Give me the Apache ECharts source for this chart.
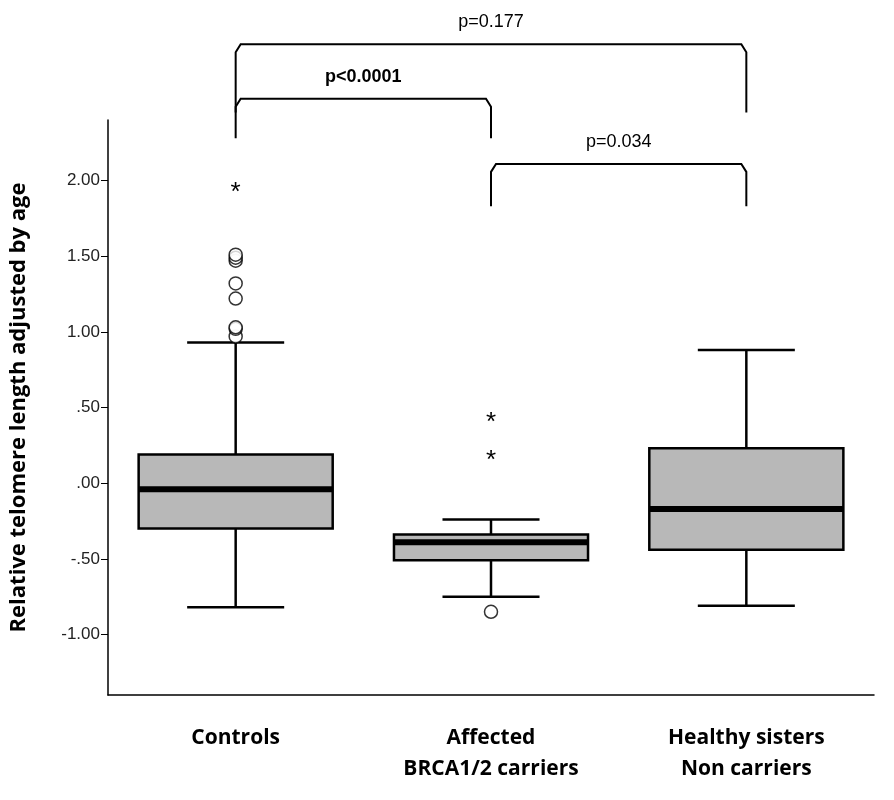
<!DOCTYPE html>
<html>
<head>
<meta charset="utf-8">
<script src="https://cdn.jsdelivr.net/npm/echarts@6/dist/echarts.min.js"></script>
<style>html,body{margin:0;background:#fff}#main{width:894px;height:800px}</style>
</head>
<body>
<div id="main"></div>
<script>
var categories = ['Controls', 'Affected\nBRCA1/2 carriers', 'Healthy sisters\nNon carriers'];
// [whiskerLow, Q1, median, Q3, whiskerHigh]
var boxStats = [
    [-0.82, -0.30, -0.04, 0.19, 0.93],
    [-0.75, -0.51, -0.39, -0.34, -0.24],
    [-0.81, -0.44, -0.17, 0.23, 0.88]
];
var circleOutliers = [[0, 0.97], [0, 1.02], [0, 1.03], [0, 1.22], [0, 1.32], [0, 1.47], [0, 1.49], [0, 1.51], [1, -0.85]];
var starOutliers = [[0, 1.96], [1, 0.44], [1, 0.19]];
// [fromCat, toCat, topValue, legValue, label, bold]
var brackets = [
    [0, 2, 2.90, 2.45, 'p=0.177', false],
    [0, 1, 2.54, 2.28, 'p<0.0001', true],
    [1, 2, 2.11, 1.83, 'p=0.034', false]
];
var yTicks = [-1, -0.5, 0, 0.5, 1, 1.5, 2];

function fmt(v) {
    var s = v.toFixed(2);
    return s.replace(/^(-?)0\./, '$1.');
}

var myChart = echarts.init(document.getElementById('main'));
var option = {
    animation: false,
    grid: { left: 108, right: 20, top: 120, bottom: 105 },
    xAxis: {
        type: 'category',
        data: categories,
        axisLine: { onZero: false, lineStyle: { color: '#000', width: 1.5 } },
        axisTick: { alignWithLabel: true, length: 7, lineStyle: { color: '#000' } },
        axisLabel: { color: '#000', fontSize: 21, fontWeight: 'bold', fontFamily: 'Open Sans', lineHeight: 31, margin: 28 }
    },
    yAxis: {
        type: 'value',
        min: -1.4, max: 2.4,
        name: 'Relative telomere length adjusted by age',
        nameLocation: 'middle',
        nameGap: 78,
        nameTextStyle: { color: '#000', fontSize: 22, fontWeight: 'bold', fontFamily: 'Open Sans' },
        splitLine: { show: false },
        axisLine: { show: true, lineStyle: { color: '#000', width: 1.5 } },
        axisTick: { show: true, length: 7, customValues: yTicks, lineStyle: { color: '#000' } },
        axisLabel: {
            color: '#222', fontSize: 17, fontFamily: 'Liberation Sans',
            customValues: yTicks,
            formatter: function (v) { return fmt(v); }
        }
    },
    series: [
        {
            type: 'custom',
            data: boxStats.map(function (s, i) { return [i].concat(s); }),
            renderItem: function (params, api) {
                var x = api.value(0);
                var band = api.size([1, 0])[0];
                var bw = band * 0.38, cw = band * 0.19;
                var pLow = api.coord([x, api.value(1)]), pQ1 = api.coord([x, api.value(2)]);
                var pMed = api.coord([x, api.value(3)]), pQ3 = api.coord([x, api.value(4)]);
                var pHigh = api.coord([x, api.value(5)]);
                var cx = pLow[0];
                var ls = { stroke: '#000', lineWidth: 2.5 };
                return {
                    type: 'group',
                    children: [
                        { type: 'line', shape: { x1: cx, y1: pLow[1], x2: cx, y2: pQ1[1] }, style: ls },
                        { type: 'line', shape: { x1: cx, y1: pQ3[1], x2: cx, y2: pHigh[1] }, style: ls },
                        { type: 'line', shape: { x1: cx - cw, y1: pLow[1], x2: cx + cw, y2: pLow[1] }, style: ls },
                        { type: 'line', shape: { x1: cx - cw, y1: pHigh[1], x2: cx + cw, y2: pHigh[1] }, style: ls },
                        { type: 'rect', shape: { x: cx - bw, y: pQ3[1], width: bw * 2, height: pQ1[1] - pQ3[1] },
                          style: { fill: '#b8b8b8', stroke: '#000', lineWidth: 2.5 } },
                        { type: 'line', shape: { x1: cx - bw, y1: pMed[1], x2: cx + bw, y2: pMed[1] },
                          style: { stroke: '#000', lineWidth: 6 } }
                    ]
                };
            }
        },
        {
            type: 'scatter',
            data: circleOutliers,
            symbol: 'circle',
            symbolSize: 13,
            itemStyle: { color: '#fff', borderColor: '#000', borderWidth: 1.5 }
        },
        {
            type: 'custom',
            data: starOutliers,
            renderItem: function (params, api) {
                var p = api.coord([api.value(0), api.value(1)]);
                return {
                    type: 'text',
                    style: { text: '*', x: p[0], y: p[1] + 6, align: 'center', verticalAlign: 'middle',
                             font: '26px Liberation Sans', fill: '#000' }
                };
            }
        },
        {
            type: 'custom',
            clip: false,
            data: brackets,
            renderItem: function (params, api) {
                var b = brackets[params.dataIndex];
                var a = api.coord([b[0], b[2]]), c = api.coord([b[1], b[2]]);
                var leg = api.coord([b[0], b[3]])[1];
                return {
                    type: 'group',
                    children: [
                        { type: 'polyline',
                          shape: { points: [[a[0], leg], [a[0], a[1] + 8], [a[0] + 5, a[1]], [c[0] - 5, c[1]], [c[0], c[1] + 8], [c[0], leg]] },
                          style: { stroke: '#000', lineWidth: 2, fill: null } },
                        { type: 'text',
                          style: { text: b[4], x: (a[0] + c[0]) / 2, y: a[1] - 22, align: 'center', verticalAlign: 'middle',
                                   font: (b[5] ? 'bold ' : '') + '18px Liberation Sans', fill: '#000' } }
                    ]
                };
            }
        }
    ]
};
myChart.setOption(option);
</script>
</body>
</html>
